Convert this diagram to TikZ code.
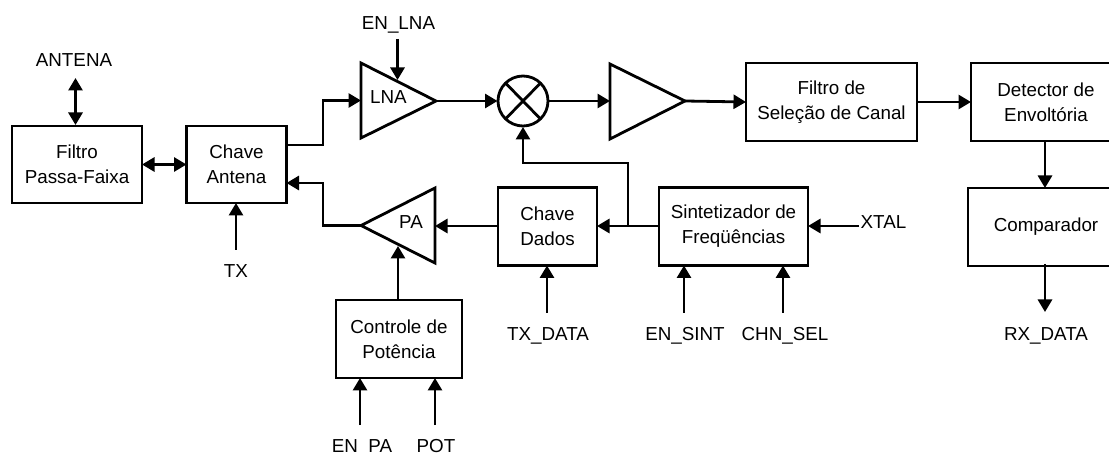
\documentclass[tikz,border=0pt]{standalone}
\usepackage{fontspec}
\setmainfont{Liberation Sans}
\usetikzlibrary{arrows.meta}
\tikzset{
  blk/.style={draw=black,line width=2.8pt,rectangle,inner sep=0pt,outer sep=0pt,align=center,font=\fontsize{18.8}{25}\selectfont},
  lbl/.style={inner sep=0pt,outer sep=0pt,anchor=base,font=\fontsize{18.8}{25}\selectfont},
  amp/.style={draw=black,line width=2.8pt,line join=miter},
  wire/.style={draw=black,line width=2.8pt},
  arr/.style={wire,-{Triangle[length=12.5pt,width=14pt]}},
  darr/.style={wire,{Triangle[length=12.5pt,width=14pt]}-{Triangle[length=12.5pt,width=14pt]}}
}
\begin{document}
\begin{tikzpicture}[x=1pt,y=-1pt]
\useasboundingbox (0,0) rectangle (1109,454);
\clip (0,0) rectangle (1109,454);
% boxes
\node[blk,minimum width=130pt,minimum height=77pt] (filtro) at (77,164.5) {Filtro\\Passa-Faixa};
\node[blk,minimum width=100pt,minimum height=77pt] (chant) at (236.5,164.5) {Chave\\Antena};
\node[blk,minimum width=99pt,minimum height=78pt] (chdad) at (547.5,226.5) {Chave\\Dados};
\node[blk,minimum width=126pt,minimum height=78pt] (ctrl) at (399,339) {Controle de\\Potência};
\node[blk,minimum width=149pt,minimum height=78pt] (sint) at (733.5,226.5) {Sintetizador de\\Freqüências};
\node[blk,minimum width=171pt,minimum height=78pt] (fsel) at (831.5,102) {Filtro de\\Seleção de Canal};
\node[blk,minimum width=150pt,minimum height=78pt] (det) at (1046,102) {Detector de\\Envoltória};
\node[blk,minimum width=156pt,minimum height=78pt] (comp) at (1046,227) {Comparador};
% triangles
\coordinate (lnaA) at (361,63);
\coordinate (lnaB) at (361,138);
\coordinate (lnaT) at (436,101);
\draw[amp] (lnaA) -- (lnaT) -- (lnaB) -- cycle;
\coordinate (paA) at (435,188);
\coordinate (paB) at (435,263);
\coordinate (paT) at (361,225.5);
\draw[amp] (paA) -- (paT) -- (paB) -- cycle;
\coordinate (ampA) at (610,64);
\coordinate (ampB) at (610,139);
\coordinate (ampT) at (685,101);
\draw[amp] (ampA) -- (ampT) -- (ampB) -- cycle;
\node[lbl] (lnalbl) at (388.5,104) {LNA};
\node[lbl] (palbl) at (411,229) {PA};
% mixer
\coordinate (mix) at (523,101);
\draw[amp] (mix) ellipse [x radius=25,y radius=25];
\draw[wire] (mix) ++(-18,-18.5) -- ++(36,37);
\draw[wire] (mix) ++(18,-18.5) -- ++(-36,37);
\coordinate (mixW) at (497.5,101);
\coordinate (mixE) at (548,101);
\coordinate (mixS) at (523,127);
% labels
\node[lbl] (antena) at (74,67) {ANTENA};
\node[lbl] (enlna) at (398.5,30) {EN\_LNA};
\node[lbl] (tx) at (236,278) {TX};
\node[lbl] (txdata) at (548,341) {TX\_DATA};
\node[lbl] (ensint) at (685,341) {EN\_SINT};
\node[lbl] (chnsel) at (785,341) {CHN\_SEL};
\node[lbl] (rxdata) at (1046,341) {RX\_DATA};
\node[lbl] (xtal) at (883.5,229) {XTAL};
\node[lbl] (enpa) at (362,452) {EN\_PA};
\node[lbl] (pot) at (436,452) {POT};
% free ends
\coordinate (antE) at (75.5,78);
\coordinate (lnaE) at (397.5,39);
\coordinate (txE) at (236,250);
\coordinate (tdE) at (547,313);
\coordinate (esE) at (684,313);
\coordinate (csE) at (783,313);
\coordinate (rxE) at (1045,312);
\coordinate (xtE) at (859,226);
\coordinate (epE) at (360,425);
\coordinate (poE) at (435,425);
\coordinate (jn) at (628,226);
% connectors
\draw[darr] (antE) -- (75.5,125);
\draw[darr] (filtro.east) -- (chant.west);
\draw[arr] (chant.east |- 0,145) -- (323,145) -- (323,100.5) -- (lnaA |- 0,100.5);
\draw[arr] (paT) -- (323,225.5) -- (323,183) -- (chant.east |- 0,183);
\draw[arr] (lnaT) -- (mixW);
\draw[arr] (mixE) -- (ampA |- mixE);
\draw[arr] (ampT) -- (fsel.west);
\draw[arr] (fsel.east) -- (det.west);
\draw[arr] (det.south -| rxE) -- (comp.north -| rxE);
\draw[arr] (comp.south -| rxE) ++(0,-2) -- (rxE);
\draw[arr] (sint.west |- jn) -- (chdad.east |- jn);
\draw[arr] (chdad.west |- jn) -- (paA |- jn);
\draw[arr] (jn) -- (628,163) -- (523,163) -- (mixS);
\draw[arr] (xtE) -- (sint.east |- xtE);
\draw[arr] (lnaE) -- (397.5,80);
\draw[arr] (txE) -- (chant.south -| txE);
\draw[arr] (tdE) -- (chdad.south -| tdE);
\draw[arr] (esE) -- (sint.south -| esE);
\draw[arr] (csE) -- (sint.south -| csE);
\draw[arr] (epE) -- (ctrl.south -| epE);
\draw[arr] (poE) -- (ctrl.south -| poE);
\draw[arr] (ctrl.north -| 398,0) -- (398,246);
\end{tikzpicture}
\end{document}
